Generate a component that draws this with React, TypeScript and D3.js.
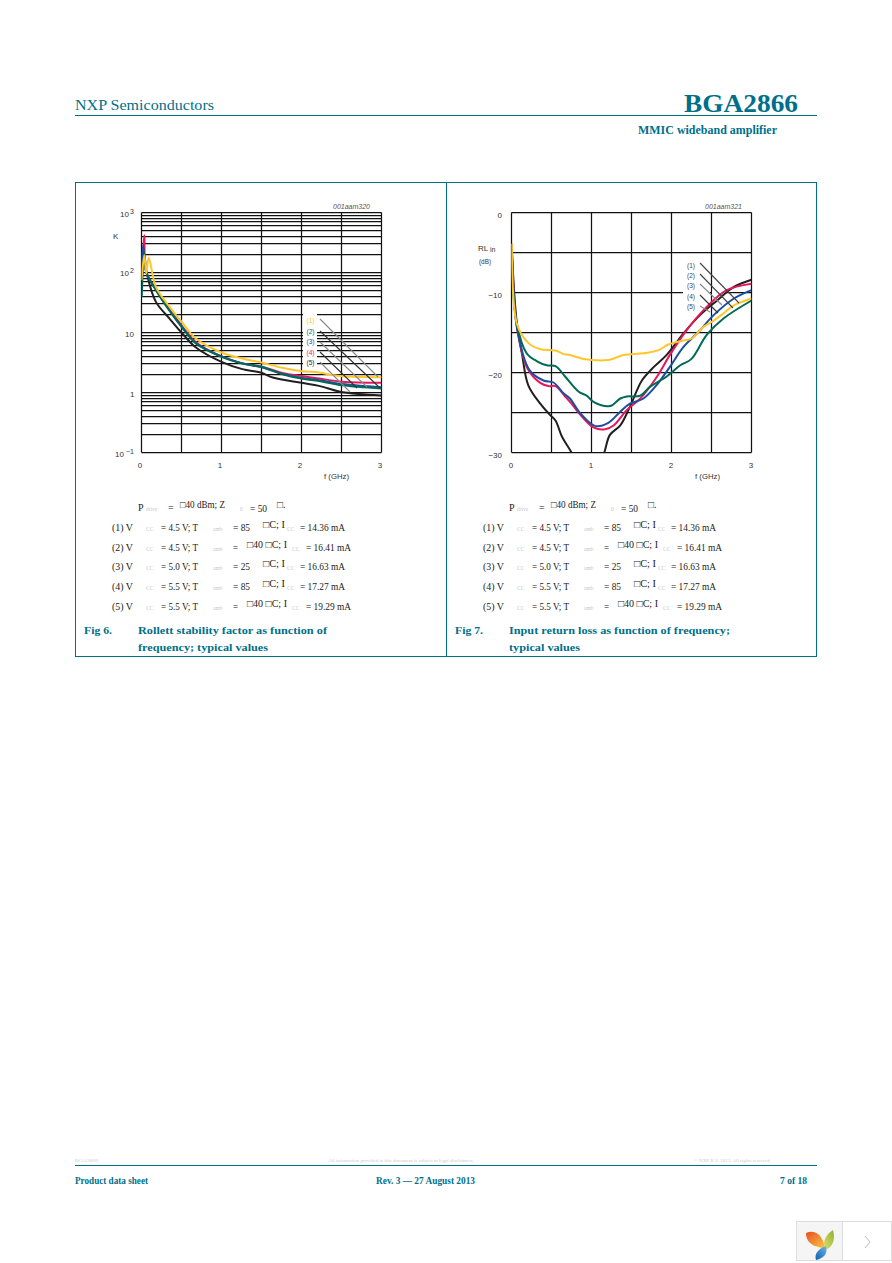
import React from 'react';
import * as d3 from 'd3';

const TEAL = '#006f8a';
const COLORS = { yellow: '#ffc62b', green: '#006a56', blue: '#1c4f9f', pink: '#e8175d', black: '#231f20' };

// Fig 6: Rollett stability factor K vs f (GHz)
const kF1 = [0, 0.035, 0.06, 0.09, 0.18, 0.35, 0.5, 0.68, 1.0, 1.26, 1.5, 1.55, 1.76, 2.0, 2.22, 2.39, 2.51, 3];
const kY1 = [74.5, 194, 96, 176, 57.7, 26.8, 15.1, 7.94, 4.64, 3.69, 3.16, 3.04, 2.58, 2.27, 2.15, 1.95, 1.87, 1.8];
const kF2 = [0.003, 0.035, 0.06, 0.18, 0.35, 0.5, 0.68, 1.0, 1.26, 1.5, 1.76, 2.0, 2.22, 2.51, 3];
const kY2 = [39, 207, 102, 50.8, 23, 12.4, 6.56, 3.93, 3.04, 2.68, 2.02, 1.71, 1.55, 1.32, 1.17];
const kF3 = [0.003, 0.02, 0.06, 0.18, 0.35, 0.5, 0.68, 1.0, 1.26, 1.5, 1.76, 2.0, 2.22, 2.51, 3];
const kY3 = [110, 285, 100, 52, 23.6, 12.8, 6.7, 4.0, 3.06, 2.62, 2.05, 1.75, 1.6, 1.38, 1.22];
const kF4 = [0.003, 0.035, 0.06, 0.18, 0.35, 0.5, 0.68, 1.0, 1.26, 1.5, 1.76, 2.0, 2.22, 2.51, 3];
const kY4 = [96, 419, 100, 53, 24.5, 13.2, 6.9, 4.0, 3.06, 2.7, 2.12, 1.88, 1.71, 1.51, 1.45];
const kF5 = [0.003, 0.035, 0.07, 0.18, 0.35, 0.5, 0.68, 1.0, 1.26, 1.5, 1.64, 2.0, 2.22, 2.47, 2.72, 3];
const kY5 = [80, 190, 92, 32.4, 17.1, 10, 5.62, 3.24, 2.45, 2.13, 1.78, 1.45, 1.29, 1.04, 0.94, 0.89];

// Fig 7: input return loss vs f (GHz)
const rlF1 = [0.005, 0.067, 0.21, 0.36, 0.55, 0.65, 0.73, 0.9, 1.23, 1.4, 1.65, 1.84, 1.96, 2.15, 2.25, 2.4, 2.53, 2.65, 2.78, 3];
const rlY1 = [-3.9, -13.9, -16.3, -17.1, -17.25, -17.7, -17.8, -18.3, -18.4, -17.8, -17.6, -17.2, -16.5, -16, -15.75, -14.3, -13.5, -12.6, -11.6, -10.75];
const rlF2 = [0.005, 0.067, 0.19, 0.32, 0.44, 0.55, 0.67, 0.84, 0.94, 1.03, 1.23, 1.36, 1.44, 1.61, 1.73, 1.94, 2.11, 2.25, 2.44, 2.65, 3];
const rlY2 = [-5, -13.9, -17.6, -18.6, -19.1, -19.2, -20.5, -22.4, -22.9, -23.7, -24.2, -23.25, -23, -22.9, -21.8, -20.5, -19.1, -18.3, -15.3, -13.25, -11];
const rlF3 = [0.005, 0.067, 0.225, 0.4, 0.525, 0.65, 0.73, 0.86, 1.05, 1.21, 1.36, 1.48, 1.65, 1.82, 1.98, 2.15, 2.34, 2.53, 2.78, 3];
const rlY3 = [-5, -14.3, -19.7, -21, -21.25, -22.6, -23.25, -25.1, -26.7, -26.3, -24.9, -23.9, -23.25, -21.5, -19.3, -16.8, -14.9, -12.8, -10.75, -9.7];
const rlF4 = [0.005, 0.067, 0.2, 0.36, 0.46, 0.55, 0.67, 0.75, 0.88, 1.03, 1.17, 1.28, 1.44, 1.61, 1.82, 1.98, 2.19, 2.44, 2.69, 3];
const rlY4 = [-3.9, -14.3, -19.5, -21.3, -21.7, -21.7, -23, -23.9, -25.5, -26.9, -27.1, -26.6, -24.7, -23.25, -20.5, -17.8, -14.7, -11.8, -9.7, -8.9];
const rlF5 = [0.005, 0.067, 0.13, 0.21, 0.36, 0.48, 0.55, 0.63, 0.75, 0.9, 1.05, 1.16, 1.23, 1.36, 1.48, 1.63, 1.78, 1.94, 2.15, 2.36, 2.57, 2.78, 3];
const rlY5 = [-5, -13.9, -17.6, -21.6, -23.9, -25.3, -26, -28, -30, -33, -33, -30, -27.8, -26.6, -24.3, -21, -19.3, -17.8, -15.1, -12.8, -11, -9.3, -8.4];

const freqTicks = [0, 1, 2, 3];
const freqGrid = [0, 0.5, 1, 1.5, 2, 2.5, 3];
const kDecades = [0.1, 1, 10, 100];
const kMultiples = [1, 2, 3, 4, 5, 6, 7, 8, 9];
const rlGrid = [0, -5, -10, -15, -20, -25, -30];
const rlLabels = [0, -10, -20, -30];

const legendTags = ['(1)', '(2)', '(3)', '(4)', '(5)'];
const vccValues = ['= 4.5 V; T', '= 4.5 V; T', '= 5.0 V; T', '= 5.5 V; T', '= 5.5 V; T'];
const tempValues = ['85', '\u25A140', '25', '85', '\u25A140'];
const iccValues = ['14.36', '16.41', '16.63', '17.27', '19.29'];

const SERIF = '"Liberation Serif", serif';
const SANS = '"Liberation Sans", sans-serif';

type TP = { x: number; y: number; s: string; size?: number; fill?: string; w?: number; bold?: boolean; font?: string; anchor?: string; italic?: boolean };
function T({ x, y, s, size = 10, fill = '#222', w, bold, font = SERIF, anchor, italic }: TP) {
  return (
    <text x={x} y={y} fontSize={size} fill={fill} fontFamily={font} fontWeight={bold ? 700 : 400}
      fontStyle={italic ? 'italic' : undefined} textAnchor={anchor}
      {...(w ? { textLength: w, lengthAdjust: 'spacingAndGlyphs' } : {})}>{s}</text>
  );
}

const seq = (xs: number[], ys: number[]) => xs.map((x, i) => [x, ys[i]] as [number, number]);

function Grid({ xs, ys, x, y }: { xs: number[]; ys: number[]; x: any; y: any }) {
  const [l, r] = x.range();
  const [b, t] = y.range();
  return (
    <g stroke="#111" strokeWidth={1.25}>
      {ys.map((v, i) => <line key={'h' + i} x1={l} x2={r} y1={Math.round(y(v) - 0.5) + 0.5} y2={Math.round(y(v) - 0.5) + 0.5} />)}
      {xs.map((v, i) => <line key={'v' + i} x1={x(v)} x2={x(v)} y1={t} y2={b} />)}
    </g>
  );
}

function Curves({ id, series, x, y, width }: { id: string; series: [number[], number[], string][]; x: any; y: any; width: number }) {
  const [l, r] = x.range();
  const [b, t] = y.range();
  const line = d3.line<[number, number]>().x(d => x(d[0])).y(d => y(d[1])).curve(d3.curveCatmullRom.alpha(0.5));
  return (
    <g>
      <clipPath id={id}><rect x={l} y={t} width={r - l} height={b - t} /></clipPath>
      <g clipPath={`url(#${id})`} fill="none" strokeLinejoin="round">
        {series.map(([f, v, c], i) => <path key={i} d={line(seq(f, v)) || ''} stroke={c} strokeWidth={width} />)}
      </g>
    </g>
  );
}

function Conditions({ dx }: { dx: number }) {
  const gray = '#c8c8c8';
  const rowY = [531, 551, 570, 590, 610];
  return (
    <g>
      <T x={138 + dx} y={511} s="P" />
      <T x={146 + dx} y={511} s="drive" size={5.5} fill={gray} />
      <T x={168 + dx} y={511} s="=" />
      <T x={180 + dx} y={508} s={'\u25A140 dBm; Z'} w={45} />
      <T x={240 + dx} y={511} s="0" size={5.5} fill={gray} />
      <T x={250 + dx} y={512} s="= 50" w={17} />
      <T x={277 + dx} y={508} s={'\u25A1.'} />
      {legendTags.map((tag, i) => {
        const neg = tempValues[i].length > 2;
        const y = rowY[i];
        return (
          <g key={i}>
            <T x={112 + dx} y={y} s={`${tag} V`} w={21} />
            <T x={146 + dx} y={y} s="CC" size={5.5} fill={gray} />
            <T x={161 + dx} y={y} s={vccValues[i]} w={37} />
            <T x={213 + dx} y={y} s="amb" size={5.5} fill={gray} />
            <T x={233 + dx} y={y} s={neg ? '=' : `= ${tempValues[i]}`} w={neg ? 5 : 17} />
            {neg
              ? <T x={247 + dx} y={y - 3} s={`${tempValues[i]} \u25A1C; I`} w={40} />
              : <T x={263 + dx} y={y - 3} s={'\u25A1C; I'} w={22} />}
            <T x={(neg ? 292 : 287) + dx} y={y} s="CC" size={5.5} fill={gray} />
            <T x={(neg ? 306 : 300) + dx} y={y} s={`= ${iccValues[i]} mA`} w={45} />
          </g>
        );
      })}
    </g>
  );
}

function Leaders({ items, colors }: { items: number[][]; colors: string[] }) {
  return (
    <g strokeWidth={1.1}>
      {items.map((p, i) => <line key={i} x1={p[0]} y1={p[1]} x2={p[2]} y2={p[3]} stroke={colors[i]} />)}
    </g>
  );
}

export default function App() {
  const kx = d3.scaleLinear().domain([0, 3]).range([141.5, 381.5]);
  const ky = d3.scaleLog().domain([0.1, 1000]).range([452.5, 212.5]);
  const rx = d3.scaleLinear().domain([0, 3]).range([511.5, 751.5]);
  const ry = d3.scaleLinear().domain([-30, 0]).range([452.5, 212.5]);

  const kLines = [...kDecades.flatMap(d => kMultiples.map(m => d * m)), 1000];
  const lab = { font: SANS, size: 8, fill: '#333' };

  const yL = (v: number) => Math.round(ry(v));

  return (
    <svg width={892} height={1263} viewBox="0 0 892 1263" style={{ position: 'absolute', left: 0, top: 0, display: 'block', background: '#fff' }}>
      <defs>
        <linearGradient id="leafO" x1="0" y1="0" x2="1" y2="1"><stop offset="0" stopColor="#e8501e" /><stop offset="1" stopColor="#fbc64a" /></linearGradient>
        <linearGradient id="leafG" x1="1" y1="0" x2="0" y2="1"><stop offset="0" stopColor="#8db32c" /><stop offset="1" stopColor="#e0e070" /></linearGradient>
        <linearGradient id="leafB" x1="1" y1="0" x2="0" y2="1"><stop offset="0" stopColor="#6fb5e6" /><stop offset="1" stopColor="#0f5fae" /></linearGradient>
      </defs>
      {/* page header */}
      <T x={75} y={110} s="NXP Semiconductors" size={14.5} fill={TEAL} w={139} />
      <T x={684} y={112} s="BGA2866" size={25} fill={TEAL} bold w={114} />
      <line x1={75} x2={817} y1={115.5} y2={115.5} stroke={TEAL} />
      <T x={638} y={134} s="MMIC wideband amplifier" size={11.5} fill={TEAL} bold w={139} />

      {/* frame */}
      <rect x={75.5} y={182.5} width={741} height={474} fill="none" stroke={TEAL} />
      <line x1={446.5} x2={446.5} y1={182.5} y2={656.5} stroke={TEAL} />

      {/* Fig 6 */}
      <Grid xs={freqGrid} ys={kLines} x={kx} y={ky} />
      <rect x={303} y={313} width={14} height={56} fill="#fff" />
      <Curves id="k" x={kx} y={ky} width={2} series={[
        [kF5, kY5, COLORS.black], [kF4, kY4, COLORS.pink], [kF3, kY3, COLORS.blue], [kF2, kY2, COLORS.green], [kF1, kY1, COLORS.yellow],
      ]} />
      <Leaders colors={['#888', '#333', '#888', '#333', '#888']} items={[
        [320, 319, 378, 377], [320, 331, 380, 388], [320, 342, 367, 387], [320, 352, 357, 388], [320, 362, 350, 392],
      ]} />
      {legendTags.map((t, i) => (
        <T key={i} x={310.5} y={[323, 334, 344, 355, 365][i]} s={t} font={SANS} size={6.5} anchor="middle"
          fill={[COLORS.yellow, COLORS.green, COLORS.blue, COLORS.pink, COLORS.black][i]} />
      ))}
      <T x={333} y={209} s="001aam320" font={SANS} size={7} fill="#555" italic w={37} />
      <T x={120} y={217} s="10" {...lab} />
      <T x={130} y={214} s="3" {...lab} size={7} />
      <T x={120} y={276} s="10" {...lab} />
      <T x={130} y={273} s="2" {...lab} size={7} />
      <T x={125} y={337} s="10" {...lab} />
      <T x={130} y={397} s="1" {...lab} />
      <T x={115} y={457} s="10" {...lab} />
      <T x={126} y={454} s={'\u22121'} {...lab} size={7} />
      <T x={113} y={239} s="K" {...lab} />
      {freqTicks.map(f => <T key={f} x={kx(f) - 1.5} y={468} s={String(f)} {...lab} anchor="middle" />)}
      <T x={324} y={479} s="f (GHz)" {...lab} w={25} />

      {/* Fig 7 */}
      <Grid xs={freqGrid} ys={rlGrid} x={rx} y={ry} />
      <rect x={683} y={yL(-10) - 2} width={27} height={4} fill="#fff" />
      <rect x={712} y={yL(-10) - 2} width={14} height={4} fill="#fff" />
      <Curves id="r" x={rx} y={ry} width={2} series={[
        [rlF5, rlY5, COLORS.black], [rlF4, rlY4, COLORS.pink], [rlF3, rlY3, COLORS.blue], [rlF2, rlY2, COLORS.green], [rlF1, rlY1, COLORS.yellow],
      ]} />
      <Leaders colors={['#444', '#444', '#888', '#333', '#888']} items={[
        [700, 263, 739, 303], [700, 274, 733, 308], [700, 284, 722, 305], [700, 295, 718, 313], [700, 306, 710, 312],
      ]} />
      {legendTags.map((t, i) => (
        <T key={i} x={691} y={[268, 278, 288, 299, 309][i]} s={t} font={SANS} size={6.5} anchor="middle" fill="#444" />
      ))}
      <T x={705} y={209} s="001aam321" font={SANS} size={7} fill="#555" italic w={37} />
      {rlLabels.map(v => (
        <T key={v} x={502} y={ry(v) + 5} s={v === 0 ? '0' : `\u2212${-v}`} {...lab} anchor="end" />
      ))}
      <T x={478} y={251} s="RL" {...lab} />
      <T x={490} y={252} s="in" {...lab} size={7} />
      <T x={479} y={264} s="(dB)" {...lab} size={7} w={12} />
      {freqTicks.map(f => <T key={f} x={rx(f) - 0.5} y={468} s={String(f)} {...lab} anchor="middle" />)}
      <T x={695} y={479} s="f (GHz)" {...lab} w={25} />

      {/* conditions */}
      <Conditions dx={0} />
      <Conditions dx={371} />

      {/* captions */}
      <T x={84} y={634} s="Fig 6." size={11} fill={TEAL} bold w={28} />
      <T x={138} y={634} s="Rollett stability factor as function of" size={11} fill={TEAL} bold w={189} />
      <T x={138} y={651} s="frequency; typical values" size={11} fill={TEAL} bold w={130} />
      <T x={455} y={634} s="Fig 7." size={11} fill={TEAL} bold w={28} />
      <T x={509} y={634} s="Input return loss as function of frequency;" size={11} fill={TEAL} bold w={221} />
      <T x={509} y={651} s="typical values" size={11} fill={TEAL} bold w={71} />

      {/* footer */}
      <T x={75} y={1162} s="BGA2866" size={4.5} fill="#ccc" w={23} />
      <T x={328} y={1162} s="All information provided in this document is subject to legal disclaimers." size={4.5} fill="#ccc" w={146} />
      <T x={694} y={1162} s={'\u00A9 NXP B.V. 2013. All rights reserved.'} size={4.5} fill="#ccc" w={77} />
      <line x1={75} x2={817} y1={1165.5} y2={1165.5} stroke={TEAL} />
      <T x={75} y={1184} s="Product data sheet" size={10} fill={TEAL} bold w={73} />
      <T x={376} y={1184} s={'Rev. 3 \u2014 27 August 2013'} size={10} fill={TEAL} bold w={99} />
      <T x={780} y={1184} s="7 of 18" size={10} fill={TEAL} bold w={27} />

      {/* page navigation widget */}
      <rect x={796.5} y={1221.5} width={46} height={39} fill="#f5f5f5" stroke="#ddd" />
      <rect x={842.5} y={1221.5} width={49} height={39} fill="#fff" stroke="#ddd" />
      <path d="M806 1233 C814 1229 823 1234 825 1248 C822 1249 820 1247 815 1246 C810 1244 806 1240 806 1233Z" fill="url(#leafO)" />
      <path d="M833 1230 C836 1240 832 1248 825 1250 C822 1243 825 1235 833 1230Z" fill="url(#leafG)" />
      <path d="M826 1246 C828 1254 824 1258 816 1260 C814 1254 818 1249 826 1246Z" fill="url(#leafB)" />
      <path d="M865 1236 L870 1242 L865 1248" fill="none" stroke="#bbb" />
    </svg>
  );
}
